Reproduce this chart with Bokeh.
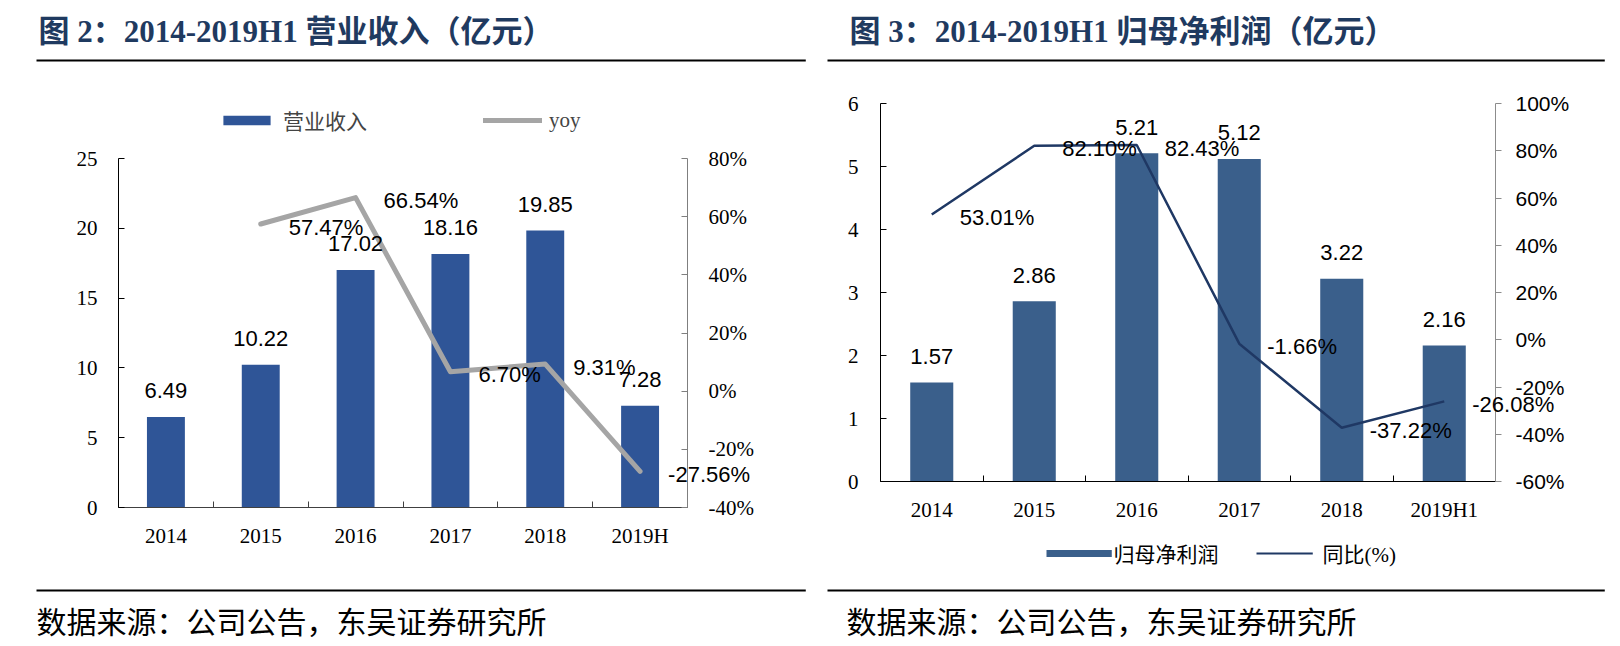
import numpy as np
from jinja2 import Template
from bokeh.plotting import figure
from bokeh.models import (Range1d, LinearAxis, FixedTicker, PrintfTickFormatter, LabelSet,
                          ColumnDataSource, Label, Legend, LegendItem)
from bokeh.core.properties import value
from bokeh.embed import file_html
from bokeh.resources import INLINE

# ---------------- data ----------------
rev_years = ["2014", "2015", "2016", "2017", "2018", "2019H"]
revenue = [6.49, 10.22, 17.02, 18.16, 19.85, 7.28]
revenue_yoy = [None, 57.47, 66.54, 6.70, 9.31, -27.56]

np_years = ["2014", "2015", "2016", "2017", "2018", "2019H1"]
net_profit = [1.57, 2.86, 5.21, 5.12, 3.22, 2.16]
net_profit_yoy = [53.01, 82.10, 82.43, -1.66, -37.22, -26.08]

rev_ticks = [0, 5, 10, 15, 20, 25]
rev_pct_ticks = [-40, -20, 0, 20, 40, 60, 80]
np_ticks = [0, 1, 2, 3, 4, 5, 6]
np_pct_ticks = [-60, -40, -20, 0, 20, 40, 60, 80, 100]

title_left = "图 2：2014-2019H1 营业收入（亿元）"
title_right = "图 3：2014-2019H1 归母净利润（亿元）"
source_note = "数据来源：公司公告，东吴证券研究所"
legend_left = ["营业收入", "yoy"]
legend_right = ["归母净利润", "同比(%)"]

SERIF = "'Liberation Serif', 'Noto Sans CJK SC'"
SANS = "Liberation Sans"
TITLE_COLOR = "#1F3A60"
BAR1 = "#2F5597"
LINE1 = "#A5A5A5"
BAR2 = "#3A5F8B"
LINE2 = "#1F3864"
H = 646


def canvas_label(p, side, x, y, text, **kw):
    p.add_layout(Label(x=x, y=y, x_units="canvas", y_units="canvas", text=text, **kw), side)


def bar_box(p, side, x, y_top, w, h, color):
    # a solid box drawn as a label background (y_top = top edge, canvas pixels)
    canvas_label(p, side, x, y_top + h // 2, " ", text_font_size="1px", text_align="left",
                 text_baseline="middle", background_fill_color=color,
                 background_fill_alpha=1.0, padding=(h // 2, w, h - h // 2 - 1, 0))


def decorate(p, title, tx, rule_l, rule_len, fx):
    canvas_label(p, "above", tx, 31, title, text_baseline="middle", text_font=SERIF,
                 text_font_style="bold", text_font_size="31px", text_color=TITLE_COLOR)
    bar_box(p, "above", rule_l, 58, rule_len, 4, "black")
    bar_box(p, "below", rule_l, 588, rule_len, 4, "black")
    canvas_label(p, "below", fx, 619, source_note, text_baseline="middle",
                 text_font="'Noto Sans CJK SC'", text_font_size="30px", text_color="black")


def base_fig(width, n, yr, ml, mr, mt, mb):
    p = figure(width=width, height=H, output_backend="svg", toolbar_location=None,
               x_range=Range1d(0, n), y_range=yr,
               min_border_left=ml, min_border_right=mr, min_border_top=mt, min_border_bottom=mb)
    p.outline_line_color = None
    p.xgrid.visible = False
    p.ygrid.visible = False
    p.background_fill_color = "white"
    p.border_fill_color = "white"
    return p


def style_xaxis(ax, xs, cats, color):
    ax.ticker = FixedTicker(ticks=xs, minor_ticks=list(range(len(cats) + 1)))
    ax.major_label_overrides = {x: c for x, c in zip(xs, cats)}
    ax.major_tick_in = 0
    ax.major_tick_out = 0
    ax.minor_tick_in = 6
    ax.minor_tick_out = 0
    ax.minor_tick_line_color = color
    ax.axis_line_color = color
    ax.major_label_standoff = 16
    ax.major_label_text_font = SERIF
    ax.major_label_text_font_size = "21px"
    ax.major_label_text_color = "black"


def style_yaxis(ax, ticks, color, tin, tout, standoff, font):
    ax.ticker = FixedTicker(ticks=ticks)
    ax.bounds = (min(ticks), max(ticks))
    ax.minor_tick_line_color = None
    ax.major_tick_in = tin
    ax.major_tick_out = tout
    ax.axis_line_color = color
    ax.major_tick_line_color = color
    ax.major_label_standoff = standoff
    ax.major_label_text_font = font
    ax.major_label_text_font_size = "21px"
    ax.major_label_text_color = "black"


def add_labels(p, xs, bars, yoy, side_idx, side_panel):
    src_b = ColumnDataSource(dict(x=xs, y=bars, t=[f"{v:.2f}" for v in bars]))
    p.add_layout(LabelSet(x="x", y="y", text="t", source=src_b, text_align="center",
                          text_baseline="middle", y_offset=26, text_font=value(SANS),
                          text_font_size="22px", text_color="black"))
    idx = [i for i, v in enumerate(yoy) if v is not None and i != side_idx]
    src_l = ColumnDataSource(dict(x=[xs[i] for i in idx], y=[yoy[i] for i in idx],
                                  t=[f"{yoy[i]:.2f}%" for i in idx]))
    p.add_layout(LabelSet(x="x", y="y", text="t", source=src_l, y_range_name="yoy",
                          text_align="left", text_baseline="middle", x_offset=28, y_offset=-3,
                          text_font=value(SANS), text_font_size="22px", text_color="black"))
    # this label runs past the plot area; kept in a side panel so it is not clipped
    i = side_idx
    p.add_layout(Label(x=xs[i], y=yoy[i], y_range_name="yoy", text=f"{yoy[i]:.2f}%",
                       text_align="left", text_baseline="middle", x_offset=28, y_offset=-3,
                       text_font=SANS, text_font_size="22px", text_color="black"), side_panel)


# ---------------- left chart ----------------
# plot area: x 118..687, value 25 at y=158, value 0 at y=507; frame extended up to y=100
L_TOP, L_25, L_0 = 100, 158, 507
xl = (np.arange(len(rev_years)) + 0.5).tolist()
y_end = max(rev_ticks) * (L_0 - L_TOP) / (L_0 - L_25)
p_lo, p_hi = min(rev_pct_ticks), max(rev_pct_ticks)
pct_end = p_lo + (p_hi - p_lo) * (L_0 - L_TOP) / (L_0 - L_25)
p1 = base_fig(814, len(rev_years), Range1d(0, y_end), 118, 127, L_TOP, H - L_0)
p1.extra_y_ranges = {"yoy": Range1d(p_lo, pct_end)}
style_xaxis(p1.xaxis[0], xl, rev_years, "#404040")
style_yaxis(p1.yaxis[0], rev_ticks, "black", 6, 0, 21, SERIF)
ra = LinearAxis(y_range_name="yoy", formatter=PrintfTickFormatter(format="%d%%"))
style_yaxis(ra, rev_pct_ticks, "#7F7F7F", 6, 0, 21, SERIF)
p1.add_layout(ra, "right")

bars1 = p1.vbar(x=xl, top=revenue, width=0.4, fill_color=BAR1, line_color=None)
yoy1 = [np.nan if v is None else v for v in revenue_yoy]
line1 = p1.line(x=xl, y=yoy1, y_range_name="yoy", line_color=LINE1, line_width=5,
                line_cap="round", line_join="round")

leg1 = Legend(items=[LegendItem(label=legend_left[0], renderers=[bars1]),
                     LegendItem(label=legend_left[1], renderers=[line1])],
              location=(99, 372), orientation="horizontal", padding=0, margin=0,
              spacing=116, label_standoff=7, glyph_width=59, glyph_height=12,
              label_height=12, border_line_color=None, background_fill_alpha=0,
              label_text_font=SERIF, label_text_font_size="21px")
p1.add_layout(leg1, "center")
decorate(p1, title_left, 38, 36, 767, 36)
add_labels(p1, xl, revenue, revenue_yoy, len(rev_years) - 1, "below")

# ---------------- right chart ----------------
xr = (np.arange(len(np_years)) + 0.5).tolist()
p2 = base_fig(806, len(np_years), Range1d(min(np_ticks), max(np_ticks)), 66, 125, 103, 165)
p2.extra_y_ranges = {"yoy": Range1d(min(np_pct_ticks), max(np_pct_ticks))}
style_xaxis(p2.xaxis[0], xr, np_years, "black")
style_yaxis(p2.yaxis[0], np_ticks, "black", 6, 0, 22, SERIF)
ra2 = LinearAxis(y_range_name="yoy", formatter=PrintfTickFormatter(format="%d%%"))
style_yaxis(ra2, np_pct_ticks, "#8C8C8C", 0, 6, 14, SANS)
p2.add_layout(ra2, "right")

bars2 = p2.vbar(x=xr, top=net_profit, width=0.42, fill_color=BAR2, line_color=None)
line2 = p2.line(x=xr, y=net_profit_yoy, y_range_name="yoy", line_color=LINE2,
                line_width=2.5)

# legend below the category labels (outside the plot area), drawn with labels
bar_box(p2, "above", 232, 547, 59, 13, BAR2)
bar_box(p2, "above", 442, 552, 55, 3, LINE2)
canvas_label(p2, "below", 299, 554, legend_right[0], text_baseline="middle",
             text_font=SERIF, text_font_size="21px", text_color="black")
canvas_label(p2, "below", 508, 554, legend_right[1], text_baseline="middle",
             text_font=SERIF, text_font_size="21px", text_color="black")
decorate(p2, title_right, 35, 13, 775, 32)
add_labels(p2, xr, net_profit, net_profit_yoy, len(np_years) - 1, "above")

# ---------------- page: the two charts side by side ----------------
PAGE = Template("""{% from macros import embed %}
<!DOCTYPE html>
<html lang="en">
<head>
<meta charset="utf-8">
<title>charts</title>
<style>html, body { margin: 0; padding: 0; background: white; }</style>
{{ bokeh_css if bokeh_css }}
{{ bokeh_js if bokeh_js }}
</head>
<body>
<div style="display: flex; flex-direction: row; align-items: flex-start;">
{% for doc in docs %}{% for root in doc.roots %}{{ embed(root) }}{% endfor %}{% endfor %}
</div>
{{ plot_script }}
</body>
</html>
""")

open("out.html", "w").write(file_html([p1, p2], INLINE, template=PAGE))
